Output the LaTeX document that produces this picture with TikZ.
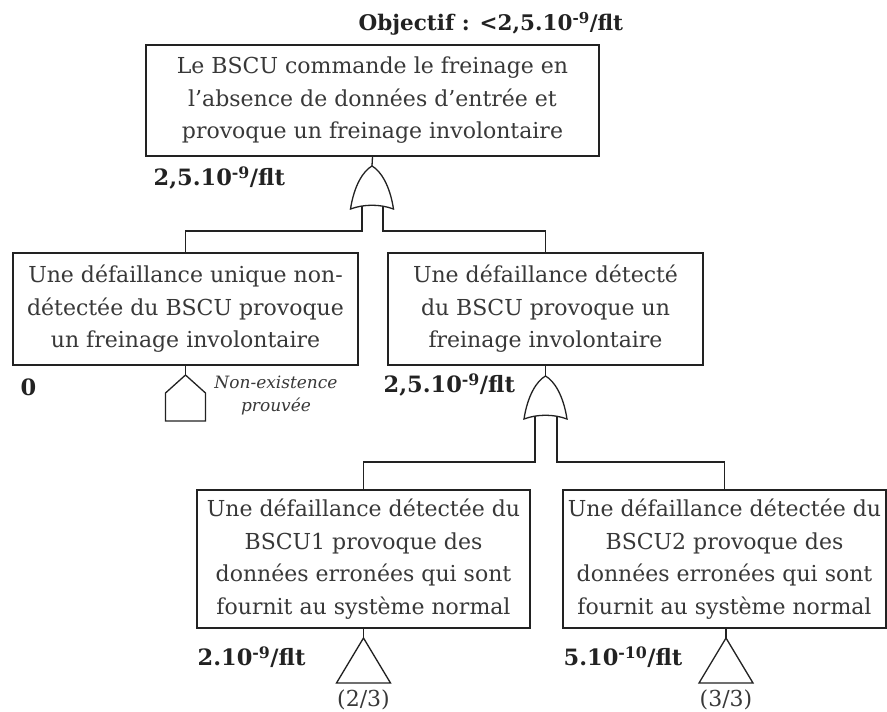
\documentclass[tikz,border=0pt]{standalone}
\usepackage{fontspec}
\setmainfont{DejaVu Serif}
\usetikzlibrary{calc}
\definecolor{ink}{HTML}{222222}
\definecolor{txt}{HTML}{383838}
\tikzset{
  evbox/.style={draw=ink, align=center, inner sep=0pt, text=txt, font=\fontsize{22}{32.5}\selectfont},
  prob/.style={anchor=west, inner sep=0pt, text=ink, font=\bfseries\fontsize{22.5}{24}\selectfont},
  objlab/.style={anchor=west, inner sep=0pt, text=ink, font=\bfseries\fontsize{21.5}{24}\selectfont},
  note/.style={align=center, inner sep=0pt, text=txt, font=\itshape\fontsize{17}{23}\selectfont},
  frac/.style={inner sep=0pt, text=txt, font=\fontsize{22}{24}\selectfont},
  orgate/.pic={\draw[ink] (-21.5,43) .. controls (-18,20) and (-9,5) .. (0,0) .. controls (9,5) and (18,20) .. (21.5,43) .. controls (8,38) and (-8,38) .. cycle;},
  housegate/.pic={\draw[ink] (0,0) -- (20,18) -- (20,46) -- (-20,46) -- (-20,18) -- cycle;},
  trigate/.pic={\draw[ink] (0,0) -- (27,45) -- (-27,45) -- cycle;}
}
\begin{document}
\begin{tikzpicture}[x=1pt,y=-1pt,line width=1.3pt]
\useasboundingbox[fill=white] (0,0) rectangle (887,712);
% boxes
\node[evbox, minimum width=453pt, minimum height=111pt] (top) at (372.5,100.5)
  {Le BSCU commande le freinage en\\l’absence de données d’entrée et\\provoque un freinage involontaire};
\node[evbox, minimum width=345pt, minimum height=112pt] (left) at (185.5,309)
  {Une défaillance unique non-\\détectée du BSCU provoque\\un freinage involontaire};
\node[evbox, minimum width=315pt, minimum height=112pt] (right) at (545.5,309)
  {Une défaillance détecté\\du BSCU provoque un\\freinage involontaire};
\node[evbox, minimum width=333pt, minimum height=138pt] (bl) at (363.5,559)
  {Une défaillance détectée du\\BSCU1 provoque des\\données erronées qui sont\\fournit au système normal};
\node[evbox, minimum width=323pt, minimum height=138pt] (br) at (724.5,559)
  {Une défaillance détectée du\\BSCU2 provoque des\\données erronées qui sont\\fournit au système normal};
% gate 1
\coordinate (g1) at (372,166);
\draw[ink] (top.south) -- (g1);
\pic at (g1) {orgate};
\coordinate (g1l) at ($(g1)+(-10,40)$);
\coordinate (g1r) at ($(g1)+(11,40)$);
\draw[ink] (g1l) -- ++(0,25) -| (left.north);
\draw[ink] (g1r) -- ++(0,25) -| (right.north);
% gate 2
\coordinate (g2) at (545.5,376);
\draw[ink] (right.south) -- (g2);
\pic at (g2) {orgate};
\coordinate (g2l) at ($(g2)+(-10.5,40)$);
\coordinate (g2r) at ($(g2)+(11.5,40)$);
\draw[ink] (g2l) -- ++(0,46) -| (bl.north);
\draw[ink] (g2r) -- ++(0,46) -| (br.north);
% house
\coordinate (h1) at (185.5,375);
\draw[ink] (left.south) -- (h1);
\pic at (h1) {housegate};
% triangles
\coordinate (t1) at (363.5,638);
\draw[ink] (bl.south) -- (t1);
\pic at (t1) {trigate};
\coordinate (t2) at (726,638);
\draw[ink] (br.south -| t2) -- (t2);
\pic at (t2) {trigate};
% labels
\node[objlab] (obj) at (358,24) {Objectif : <2,5.10\textsuperscript{-9}/flt};
\node[prob] (p0) at (153,178) {2,5.10\textsuperscript{-9}/flt};
\node[prob] (p1) at (20,387) {0};
\node[prob] (p2) at (383,385) {2,5.10\textsuperscript{-9}/flt};
\node[prob] (p3) at (197,657) {2.10\textsuperscript{-9}/flt};
\node[prob] (p4) at (563,657) {5.10\textsuperscript{-10}/flt};
\node[note] (ne) at (276,396) {Non-existence\\prouvée};
\node[frac] (f1) at (363.5,700) {(2/3)};
\node[frac] (f2) at (726,700) {(3/3)};
\end{tikzpicture}
\end{document}
